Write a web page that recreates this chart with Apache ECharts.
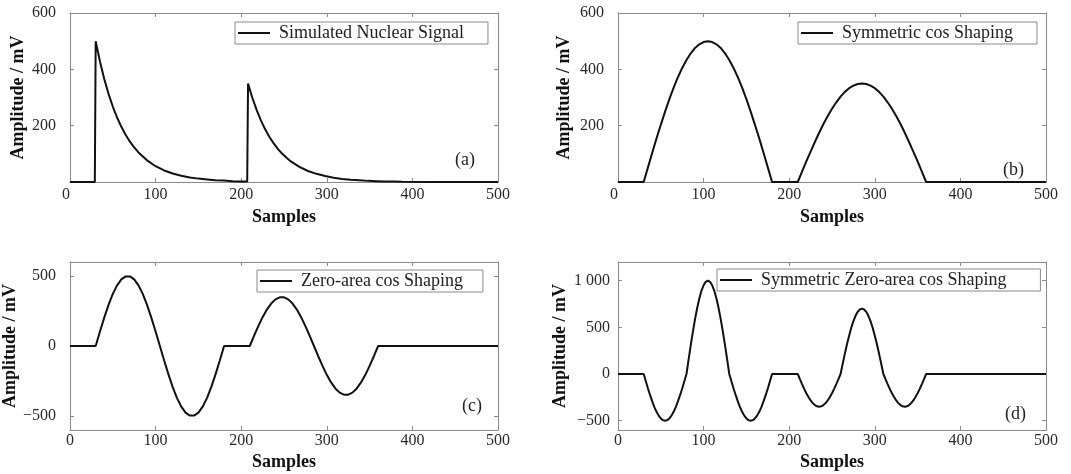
<!DOCTYPE html>
<html>
<head>
<meta charset="utf-8">
<script src="https://cdn.jsdelivr.net/npm/echarts@6/dist/echarts.min.js"></script>
<style>
html,body{margin:0;padding:0;background:#fff;}
#c{width:1071px;height:474px;}
</style>
</head>
<body>
<div id="c"></div>
<script>
// ---------- data ----------
const xTicks = [0, 100, 200, 300, 400, 500];

// (a) simulated nuclear signal
const signalX = [0, 29, 30, 35, 40, 45, 50, 55, 60, 65, 70, 75, 80, 90, 100, 110, 120, 130, 140, 150, 160, 170, 180, 190, 200, 207, 208, 213, 218, 223, 228, 233, 238, 243, 248, 253, 258, 268, 278, 288, 298, 308, 318, 328, 338, 348, 358, 368, 378, 388, 420, 460, 500];
const signalY = [0, 0, 500, 428, 366, 313, 268, 229, 196, 168, 143, 123, 105, 77, 56, 41, 30, 22, 16, 12, 9, 6, 5, 3, 2, 2, 350, 299, 256, 219, 187, 160, 137, 117, 100, 86, 73, 54, 39, 29, 21, 15, 11, 8, 6, 4, 3, 2, 2, 1, 0, 0, 0];

// sample positions for the shaped outputs (b), (c)
const shapeX = [0,
  30, 35, 40, 45, 50, 55, 60, 65, 70, 75, 80, 85, 90, 95, 100, 105, 110, 115, 120, 125, 130, 135, 140, 145, 150, 155, 160, 165, 170, 175, 180,
  210, 215, 220, 225, 230, 235, 240, 245, 250, 255, 260, 265, 270, 275, 280, 285, 290, 295, 300, 305, 310, 315, 320, 325, 330, 335, 340, 345, 350, 355, 360,
  500];

// (b) symmetric cos shaping
const symCosY = [0,
  0, 52, 104, 155, 203, 250, 294, 335, 372, 405, 433, 457, 476, 489, 497, 500, 497, 489, 476, 457, 433, 405, 372, 335, 294, 250, 203, 155, 104, 52, 0,
  0, 37, 73, 108, 142, 175, 206, 234, 260, 283, 303, 320, 333, 342, 348, 350, 348, 342, 333, 320, 303, 283, 260, 234, 206, 175, 142, 108, 73, 37, 0,
  0];

// (c) zero-area cos shaping
const zeroCosY = [0,
  0, 104, 203, 294, 372, 433, 476, 497, 497, 476, 433, 372, 294, 203, 104, 0, -104, -203, -294, -372, -433, -476, -497, -497, -476, -433, -372, -294, -203, -104, 0,
  0, 73, 142, 206, 260, 303, 333, 348, 348, 333, 303, 260, 206, 142, 73, 0, -73, -142, -206, -260, -303, -333, -348, -348, -333, -303, -260, -206, -142, -73, 0,
  0];

// sample positions for (d)
const symZeroX = [0,
  30, 32.5, 35, 37.5, 40, 42.5, 45, 47.5, 50, 52.5, 55, 57.5, 60, 62.5, 65, 67.5, 70, 72.5, 75, 77.5, 80,
  82.5, 85, 87.5, 90, 92.5, 95, 97.5, 100, 102.5, 105, 107.5, 110, 112.5, 115, 117.5, 120, 122.5, 125, 127.5, 130,
  132.5, 135, 137.5, 140, 142.5, 145, 147.5, 150, 152.5, 155, 157.5, 160, 162.5, 165, 167.5, 170, 172.5, 175, 177.5, 180,
  210, 212.5, 215, 217.5, 220, 222.5, 225, 227.5, 230, 232.5, 235, 237.5, 240, 242.5, 245, 247.5, 250, 252.5, 255, 257.5, 260,
  262.5, 265, 267.5, 270, 272.5, 275, 277.5, 280, 282.5, 285, 287.5, 290, 292.5, 295, 297.5, 300, 302.5, 305, 307.5, 310,
  312.5, 315, 317.5, 320, 322.5, 325, 327.5, 330, 332.5, 335, 337.5, 340, 342.5, 345, 347.5, 350, 352.5, 355, 357.5, 360,
  500];

// (d) symmetric zero-area cos shaping
const symZeroCosY = [0,
  0, -78, -155, -227, -294, -354, -405, -446, -476, -494, -500, -494, -476, -446, -405, -354, -294, -227, -155, -78, 0,
  156, 309, 454, 588, 707, 809, 891, 951, 988, 1000, 988, 951, 891, 809, 707, 588, 454, 309, 156, 0,
  -78, -155, -227, -294, -354, -405, -446, -476, -494, -500, -494, -476, -446, -405, -354, -294, -227, -155, -78, 0,
  0, -55, -108, -159, -206, -247, -283, -312, -333, -346, -350, -346, -333, -312, -283, -247, -206, -159, -108, -55, 0,
  109, 216, 318, 411, 495, 566, 624, 666, 691, 700, 691, 666, 624, 566, 495, 411, 318, 216, 109, 0,
  -55, -108, -159, -206, -247, -283, -312, -333, -346, -350, -346, -333, -312, -283, -247, -206, -159, -108, -55, 0,
  0];

const seriesNames = ['Simulated Nuclear Signal', 'Symmetric cos Shaping', 'Zero-area cos Shaping', 'Symmetric Zero-area cos Shaping'];
const panelTags = ['(a)', '(b)', '(c)', '(d)'];
const yRanges = [[0, 600], [0, 600], [-600, 600], [-600, 1200]];
const yTickValues = [[0, 200, 400, 600], [0, 200, 400, 600], [-500, 0, 500], [-500, 0, 500, 1000]];
const yLabelValues = [[200, 400, 600], [200, 400, 600], [-500, 0, 500], [-500, 0, 500, 1000]];
const xTitle = 'Samples';
const yTitle = 'Amplitude / mV';

// ---------- chart ----------
const zip = (xs, ys) => xs.map((x, i) => [x, ys[i]]);
const seriesData = [zip(signalX, signalY), zip(shapeX, symCosY), zip(shapeX, zeroCosY), zip(symZeroX, symZeroCosY)];

const FONT = '"Liberation Serif", "DejaVu Serif", serif';
const FRAME = '#8a8a8a';
const grids = [
  {left: 70, top: 13, width: 428, height: 169},
  {left: 618, top: 13, width: 428, height: 169},
  {left: 70, top: 262, width: 428, height: 168},
  {left: 618, top: 262, width: 428, height: 168}
];
const legends = [
  {left: 235, top: 22, padding: [2, 24, 2, 3]},
  {left: 798, top: 22, padding: [2, 24, 2, 3]},
  {left: 257, top: 270, padding: [2, 20, 2, 3]},
  {left: 717, top: 269, padding: [2, 34, 2, 3]}
];
const tagPos = [
  {left: 455, top: 151}, {left: 1003, top: 161}, {left: 462, top: 397}, {left: 1005, top: 405}
];
const yGaps = [43, 45, 43, 49];
const yLabelMargin = [14, 14, 14, 8];
const fmt = v => {
  let s = v === 1000 ? '1 000' : String(v);
  return s.replace('-', '\u2212');
};

const lineAxis = {show: true, onZero: false, lineStyle: {color: FRAME, width: 1}};
const xAxes = [], yAxes = [], series = [], legendArr = [], titles = [];
for (let i = 0; i < 4; i++) {
  xAxes.push({
    type: 'value', gridIndex: i, min: 0, max: 500, interval: 100, position: 'bottom',
    name: xTitle, nameLocation: 'middle', nameGap: i < 2 ? 26 : 23,
    nameTextStyle: {fontFamily: FONT, fontWeight: 'bold', fontSize: 18, color: '#111'},
    axisLine: lineAxis,
    axisTick: {show: true, inside: true, length: 4, lineStyle: {color: FRAME}},
    axisLabel: {fontFamily: FONT, fontSize: 16, color: '#2a2a2a', margin: i < 2 ? 5 : 3,
      alignMinLabel: i < 2 ? 'right' : 'center', formatter: fmt},
    splitLine: {show: false}
  });
  xAxes.push({
    type: 'value', gridIndex: i, min: 0, max: 500, interval: 100, position: 'top',
    axisLine: lineAxis,
    axisTick: {show: true, inside: true, length: 4, lineStyle: {color: FRAME}},
    axisLabel: {show: false}, splitLine: {show: false}
  });
  yAxes.push({
    type: 'value', gridIndex: i, min: yRanges[i][0], max: yRanges[i][1], position: 'left',
    name: yTitle, nameLocation: 'middle', nameGap: yGaps[i],
    nameTextStyle: {fontFamily: FONT, fontWeight: 'bold', fontSize: 18, color: '#111'},
    axisLine: lineAxis,
    axisTick: {show: true, inside: true, length: 4, lineStyle: {color: FRAME}, customValues: yTickValues[i]},
    axisLabel: {fontFamily: FONT, fontSize: 16, color: '#2a2a2a', margin: yLabelMargin[i], customValues: yLabelValues[i], formatter: fmt},
    splitLine: {show: false}
  });
  yAxes.push({
    type: 'value', gridIndex: i, min: yRanges[i][0], max: yRanges[i][1], position: 'right',
    axisLine: lineAxis,
    axisTick: {show: true, inside: true, length: 4, lineStyle: {color: FRAME}, customValues: yTickValues[i]},
    axisLabel: {show: false}, splitLine: {show: false}
  });
  series.push({
    name: seriesNames[i], type: 'line', xAxisIndex: i * 2, yAxisIndex: i * 2,
    data: seriesData[i], showSymbol: false, symbol: 'none', smooth: false,
    lineStyle: {color: '#111', width: 2}, itemStyle: {color: '#111'},
    animation: false, z: 3
  });
  legendArr.push(Object.assign({
    data: [{name: seriesNames[i], icon: 'rect'}],
    orient: 'horizontal', itemWidth: 32, itemHeight: 2,
    borderColor: FRAME, borderWidth: 1, backgroundColor: '#fff',
    textStyle: {fontFamily: FONT, fontSize: 18, lineHeight: 17, color: '#222', padding: [0, 0, 0, 4]},
    selectedMode: false, z: 5
  }, legends[i]));
  titles.push(Object.assign({
    text: panelTags[i],
    textStyle: {fontFamily: FONT, fontSize: 18, fontWeight: 'normal', color: '#222'},
    padding: 0
  }, tagPos[i]));
}

const chart = echarts.init(document.getElementById('c'), null, {renderer: 'canvas'});
chart.setOption({
  backgroundColor: '#fff',
  animation: false,
  title: titles,
  legend: legendArr,
  grid: grids,
  xAxis: xAxes,
  yAxis: yAxes,
  series: series
});
</script>
</body>
</html>
